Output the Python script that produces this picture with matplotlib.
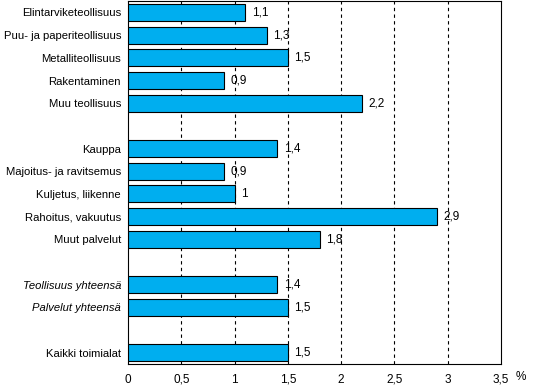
import matplotlib.pyplot as plt
import numpy as np

plt.rcParams['font.family'] = ['Liberation Sans', 'DejaVu Sans']

labels = ["Elintarviketeollisuus", "Puu- ja paperiteollisuus", "Metalliteollisuus",
          "Rakentaminen", "Muu teollisuus",
          "Kauppa", "Majoitus- ja ravitsemus", "Kuljetus, liikenne",
          "Rahoitus, vakuutus", "Muut palvelut",
          "Teollisuus yhteensä", "Palvelut yhteensä",
          "Kaikki toimialat"]
values = [1.1, 1.3, 1.5, 0.9, 2.2, 1.4, 0.9, 1.0, 2.9, 1.8, 1.4, 1.5, 1.5]
value_labels = ["1,1", "1,3", "1,5", "0,9", "2,2", "1,4", "0,9", "1", "2,9", "1,8", "1,4", "1,5", "1,5"]
slots = [0, 1, 2, 3, 4, 6, 7, 8, 9, 10, 12, 13, 15]
italic = ["Teollisuus yhteensä", "Palvelut yhteensä"]

xticks = [0, 0.5, 1, 1.5, 2, 2.5, 3, 3.5]
xtick_labels = ["0", "0,5", "1", "1,5", "2", "2,5", "3", "3,5"]

fs = 8.5

fig = plt.figure(figsize=(5.34, 3.85), dpi=100)
ax = fig.add_axes([0.2397, 0.0545, 0.6985, 0.9425])

ax.barh(slots, values, height=0.75, color="#00AEEF", edgecolor="black", linewidth=0.8, zorder=3)
for s, v, t in zip(slots, values, value_labels):
    ax.text(v + 0.06, s, t, va="center", ha="left", fontsize=fs, zorder=4)

ax.set_xlim(0, 3.5)
ax.set_ylim(15.5, -0.5)
ax.set_yticks(slots)
ax.set_yticklabels(labels, fontsize=8.1)
for tl in ax.get_yticklabels():
    if tl.get_text() in italic:
        tl.set_fontstyle("italic")
ax.set_xticks(xticks)
ax.set_xticklabels(xtick_labels, fontsize=fs)
ax.tick_params(length=0, pad=7)
ax.tick_params(axis="y", pad=5)

for x in xticks[1:-1]:
    ax.axvline(x, color="black", linestyle=(0, (3, 3)), linewidth=0.8, zorder=1)

for sp in ax.spines.values():
    sp.set_linewidth(0.8)

fig.text(0.976, 0.021, "%", fontsize=fs, ha="center", va="center")

fig.savefig("out.png", dpi=100)
